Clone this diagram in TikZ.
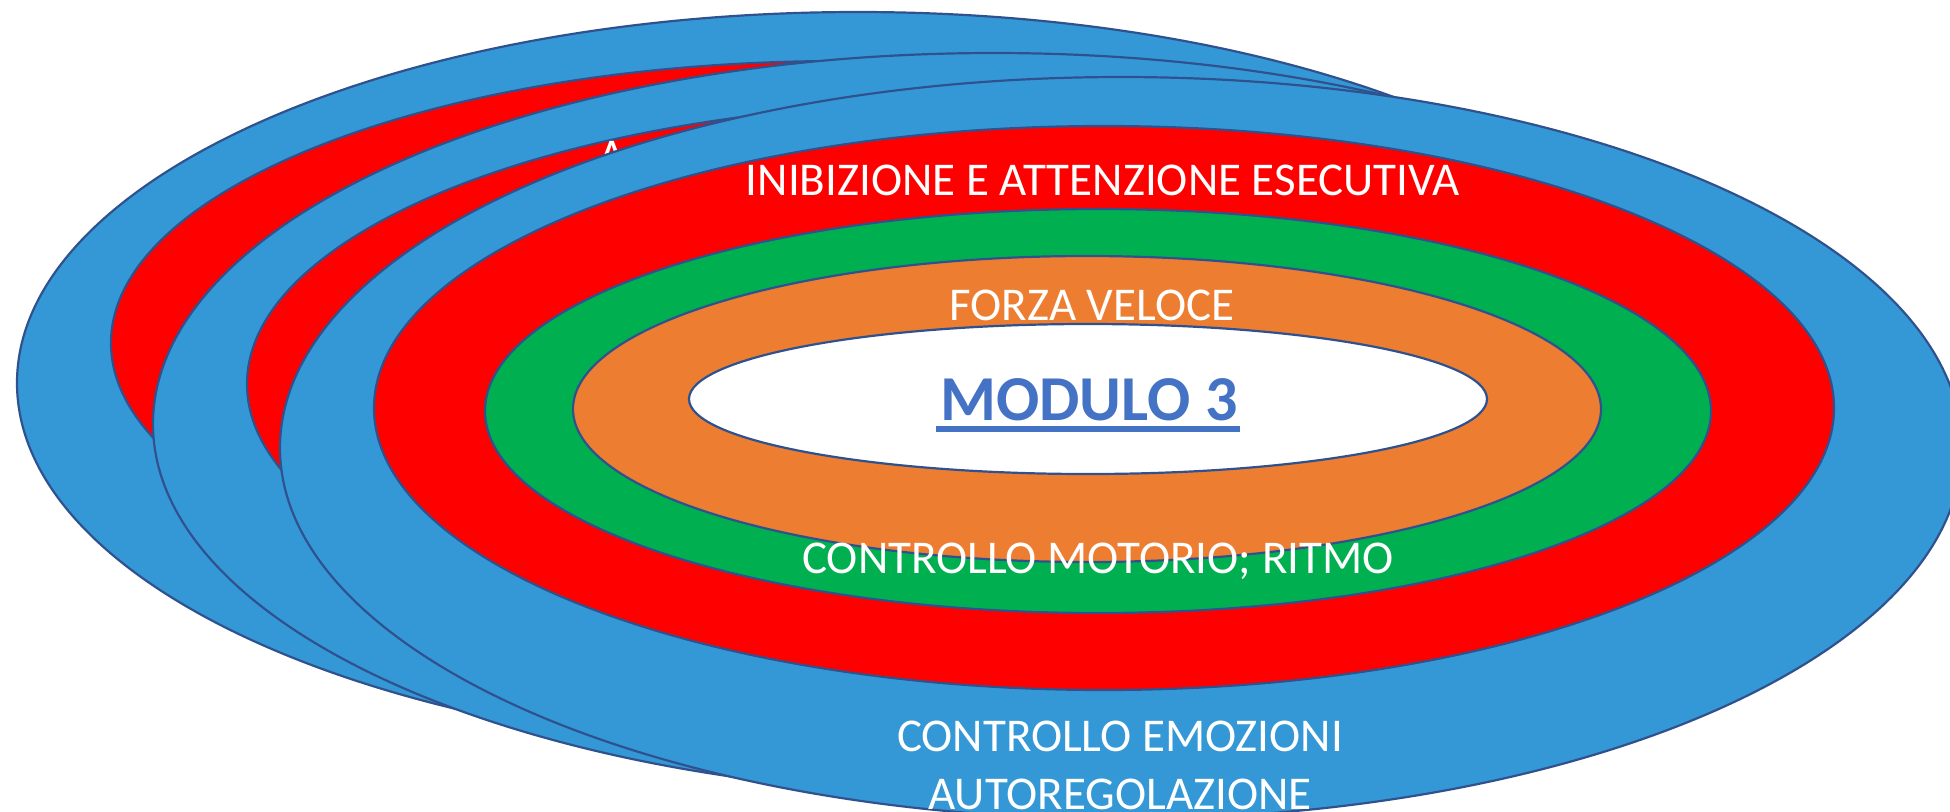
\documentclass[tikz,border=0pt]{standalone}
\usepackage{fontspec}
\setmainfont{Carlito}
\definecolor{ringblue}{HTML}{3498D6}
\definecolor{ringred}{HTML}{FF0000}
\definecolor{ringgreen}{HTML}{00B050}
\definecolor{ringorange}{HTML}{ED7D31}
\definecolor{ringline}{HTML}{2F528F}
\definecolor{modblue}{HTML}{4472C4}
\tikzset{
  ring/.style={draw=ringline, line width=1.1pt},
  lbl/.style={text=white, font=\fontsize{23.5}{28}\selectfont, inner sep=0pt, anchor=base},
}
\begin{document}
\begin{tikzpicture}[x=0.5pt,y=-0.5pt]
\path[use as bounding box, clip] (0,0) rectangle (1950,811);
\fill[white] (0,0) rectangle (1950,811);
% back copy 1
\draw[ring, fill=ringblue] (858,383) ellipse [x radius=841, y radius=371];
\draw[ring, fill=ringred] (841,343) ellipse [x radius=730, y radius=282];
% back copy 2
\draw[ring, fill=ringblue] (994,424) ellipse [x radius=841, y radius=371];
\draw[ring, fill=ringred] (977,384) ellipse [x radius=730, y radius=282];
\node[lbl] (hidden) at (612,171) {A};
% front copy
\draw[ring, fill=ringblue] (1121,448) ellipse [x radius=841, y radius=371];
\draw[ring, fill=ringred] (1104,408) ellipse [x radius=730, y radius=282];
\draw[ring, fill=ringgreen] (1098,411) ellipse [x radius=613, y radius=202];
\draw[ring, fill=ringorange] (1087,409) ellipse [x radius=514, y radius=153];
\draw[ring, fill=white] (1088,399) ellipse [x radius=399, y radius=75];
% labels
\node[lbl] (inib) at (1103,195) {INIBIZIONE E ATTENZIONE ESECUTIVA};
\node[lbl] (forza) at (1092,320) {FORZA VELOCE};
\node[lbl, text=modblue, font=\fontsize{32}{38}\selectfont\bfseries] (mod) at (1089,420) {MODULO 3};
\draw[modblue, line width=2.8pt] ([xshift=-2pt,yshift=-4.5pt]mod.base west) -- ([xshift=1pt,yshift=-4.5pt]mod.base east);
\node[lbl] (motor) at (1098,573) {CONTROLLO MOTORIO; RITMO};
\node[lbl] (emo) at (1120,751) {CONTROLLO EMOZIONI};
\node[lbl] (auto) at (1120,809) {AUTOREGOLAZIONE};
\end{tikzpicture}
\end{document}
